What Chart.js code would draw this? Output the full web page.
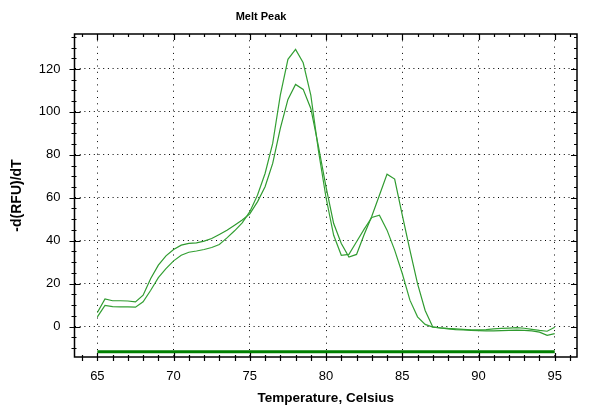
<!DOCTYPE html>
<html>
<head>
<meta charset="utf-8">
<script src="https://cdn.jsdelivr.net/npm/chart.js@4.4.1/dist/chart.umd.min.js"></script>
<style>
  html, body { margin: 0; padding: 0; background: #fff; }
  canvas { display: block; }
</style>
</head>
<body>
<canvas id="melt" width="598" height="419"></canvas>
<script>
// Melt peak — two replicate -d(RFU)/dT curves plus the threshold line
const chartTitle = 'Melt Peak';
const xTitle = 'Temperature, Celsius';
const yTitle = '-d(RFU)/dT';

const temps = [65, 65.5, 66, 66.5, 67, 67.5, 68, 68.5, 69, 69.5, 70, 70.5, 71, 71.5, 72, 72.5,
  73, 73.5, 74, 74.5, 75, 75.5, 76, 76.5, 77, 77.5, 78, 78.5, 79, 79.5, 80, 80.5, 81, 81.5,
  82, 82.5, 83, 83.5, 84, 84.5, 85, 85.5, 86, 86.5, 87, 87.5, 88, 88.5, 89, 89.5, 90, 90.5,
  91, 91.5, 92, 92.5, 93, 93.5, 94, 94.5, 95];

const wellA = [4.5, 9.8, 9.3, 9.2, 9.2, 9.0, 11.5, 16.9, 22.8, 27.0, 30.6, 33.2, 34.6, 35.2, 35.9, 36.8,
  38.2, 41.3, 44.6, 48.3, 53.5, 61.2, 71.3, 85.3, 107.8, 124.5, 129.1, 122.9, 107.8, 82, 60, 42.5, 33.2, 33.6,
  39.5, 45.4, 50.8, 51.9, 44.9, 35.6, 24.7, 12.3, 4.5, 1.0, -0.3, -0.6, -0.9, -1.1, -1.3, -1.5, -1.6, -1.4,
  -1.1, -0.9, -0.7, -0.5, -0.8, -1.3, -1.8, -2.2, -0.3];

const wellB = [6.5, 12.9, 12.0, 12.0, 11.9, 11.5, 14.6, 22.4, 28.6, 32.9, 35.9, 37.9, 38.7, 39.0, 39.8, 41.0,
  42.9, 44.9, 47.2, 49.6, 52.5, 58.1, 65.1, 76.0, 92.3, 105.8, 112.8, 110.5, 101.6, 84, 65, 48, 38.7, 32.4,
  33.6, 42.9, 51.4, 61.2, 71.0, 68.7, 51.9, 35.6, 20.0, 7.5, -0.2, -0.7, -1.1, -1.4, -1.6, -1.8, -1.9, -2.0,
  -2.0, -1.9, -1.8, -1.7, -1.8, -2.0, -2.6, -4.1, -3.3];

const thresholdX = [65, 95];
const thresholdY = [-11.8, -11.8];

const xTicks = [65, 70, 75, 80, 85, 90, 95];
const yTicks = [0, 20, 40, 60, 80, 100, 120];

const FONT = '"Liberation Sans", Arial, sans-serif';

const pairs = (xs, ys) => xs.map((x, i) => ({ x, y: ys[i] }));

// box, minor/major tick marks on all four sides, and the title
const framePlugin = {
  id: 'frame',
  afterDraw(chart) {
    const { ctx, chartArea: a, scales: { x, y } } = chart;
    ctx.save();
    ctx.strokeStyle = '#000';
    ctx.lineWidth = 1.5;
    ctx.strokeRect(a.left, a.top, a.right - a.left, a.bottom - a.top);

    ctx.lineWidth = 1.2;
    ctx.beginPath();
    for (let v = Math.ceil(x.min); v <= x.max; v++) {
      const px = Math.round(x.getPixelForValue(v)) + 0.5;
      const major = v % 5 === 0;
      ctx.moveTo(px, a.bottom - (major ? 4 : 2)); ctx.lineTo(px, a.bottom + 4);
      ctx.moveTo(px, a.top); ctx.lineTo(px, a.top + (major ? 6 : 3));
    }
    for (let v = Math.ceil(y.min / 5) * 5; v <= y.max; v += 5) {
      const py = Math.round(y.getPixelForValue(v)) + 0.5;
      const major = v % 20 === 0;
      ctx.moveTo(a.left - (major ? 5 : 3), py); ctx.lineTo(a.left + (major ? 6 : 2), py);
      ctx.moveTo(a.right, py); ctx.lineTo(a.right - (major ? 6 : 3), py);
    }
    ctx.stroke();

    ctx.fillStyle = '#000';
    ctx.font = 'bold 11px ' + FONT;
    ctx.textAlign = 'center';
    ctx.textBaseline = 'middle';
    ctx.fillText(chartTitle, 261, 17);
    ctx.restore();
  }
};

new Chart(document.getElementById('melt'), {
  type: 'line',
  data: {
    datasets: [
      { label: 'A', data: pairs(temps, wellA), borderColor: '#34a034', borderWidth: 1.2 },
      { label: 'B', data: pairs(temps, wellB), borderColor: '#2f9a2f', borderWidth: 1.2 },
      { label: 'Threshold', data: pairs(thresholdX, thresholdY), borderColor: '#008000', borderWidth: 3 },
    ],
  },
  options: {
    responsive: false,
    animation: false,
    layout: { padding: { left: 0, top: 34, right: 21, bottom: 0 } },
    elements: { point: { radius: 0 }, line: { tension: 0, fill: false } },
    plugins: { legend: { display: false }, tooltip: { enabled: false } },
    scales: {
      x: {
        type: 'linear',
        min: 63.5,
        max: 96.46,
        afterBuildTicks: (s) => { s.ticks = xTicks.map(v => ({ value: v })); },
        afterFit: (s) => { s.height = 62; },
        grid: { color: '#000', lineWidth: 1, drawTicks: false },
        border: { display: false, dash: [1, 5.3] },
        ticks: { color: '#000', padding: 12, font: { family: FONT, size: 13 } },
        title: { display: true, text: xTitle, color: '#000', padding: 13,
                 font: { family: FONT, size: 13.5, weight: 'bold' } },
      },
      y: {
        min: -14.2,
        max: 136.3,
        afterBuildTicks: (s) => { s.ticks = yTicks.map(v => ({ value: v })); },
        afterFit: (s) => { s.width = 74.5; },
        grid: { color: '#000', lineWidth: 1, drawTicks: false },
        border: { display: false, dash: [1, 3.7] },
        ticks: { color: '#000', padding: 14, font: { family: FONT, size: 13 } },
        title: { display: true, text: yTitle, color: '#000', padding: 9,
                 font: { family: FONT, size: 14, weight: 'bold' } },
      },
    },
  },
  plugins: [framePlugin],
});
</script>
</body>
</html>
